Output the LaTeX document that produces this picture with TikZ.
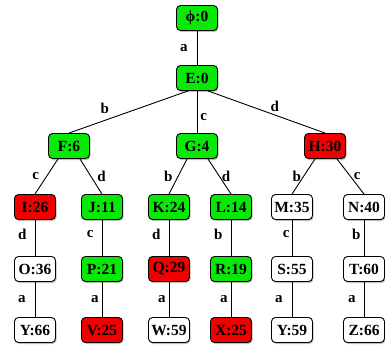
\documentclass[tikz,border=0pt]{standalone}
\usepackage{fontspec}
\setmainfont{Liberation Serif}
\usepackage{tikz}
\usetikzlibrary{positioning,shadows}
\definecolor{gnode}{RGB}{10,232,10}
\definecolor{rnode}{RGB}{240,0,0}
\tikzset{
	st/.style={draw, rounded corners=4pt, minimum width=41pt, minimum height=25pt, inner sep=2pt,
		font=\fontsize{15.5}{17}\selectfont\bfseries, drop shadow={shadow xshift=1pt, shadow yshift=-1.5pt, fill=black, opacity=.25}},
	gst/.style={st, fill=gnode},
	rst/.style={st, fill=rnode},
	wst/.style={st, fill=white},
	lbl/.style={font=\fontsize{15}{17}\selectfont\bfseries, inner sep=1pt}
}

\begin{document}
\begin{tikzpicture}[x=1pt,y=-1pt,line width=.9pt]
	\path [use as bounding box] (0,0) rectangle (385,345);
	% nodes, row by row
	\node[gst] (phi) at (197,18) {ϕ:0};
	\node[gst] (E) at (197,78) {E:0};
	\node[gst] (F) at (69,146) {F:6};
	\node[gst] (G) at (197,146) {G:4};
	\node[rst] (H) at (325,146) {H:30};
	\node[rst] (I) at (35,207) {I:26};
	\node[gst] (J) at (102,207) {J:11};
	\node[gst] (K) at (169,207) {K:24};
	\node[gst] (L) at (231,207) {L:14};
	\node[wst] (M) at (292,207) {M:35};
	\node[wst] (N) at (364,207) {N:40};
	\node[wst] (O) at (35,269) {O:36};
	\node[gst] (P) at (102,269) {P:21};
	\node[rst] (Q) at (169,269) {Q:29};
	\node[gst] (R) at (231,269) {R:19};
	\node[wst] (S) at (292,269) {S:55};
	\node[wst] (T) at (364,269) {T:60};
	\node[wst] (Y1) at (35,330) {Y:66};
	\node[rst] (V) at (102,330) {V:25};
	\node[wst] (W) at (169,330) {W:59};
	\node[rst] (X) at (231,330) {X:25};
	\node[wst] (Y2) at (292,330) {Y:59};
	\node[wst] (Z) at (364,330) {Z:66};
	% edges
	\draw (phi) -- node[lbl, left=8pt] {a} (E);
	\draw ([xshift=-9pt]E.south) -- node[lbl, pos=.7, above=5pt] {b} (F.north);
	\draw (E) -- node[lbl, pos=.62, right=2pt] {c} (G);
	\draw ([xshift=11pt]E.south) -- node[lbl, pos=.57, above=2pt] {d} (H.north);
	\draw ([xshift=-11pt]F.south) -- node[lbl, left=6pt] {c} (I.north);
	\draw ([xshift=11pt]F.south) -- node[lbl, right=5pt] {d} (J.north);
	\draw ([xshift=-10pt]G.south) -- node[lbl, left=4pt] {b} (K.north);
	\draw ([xshift=11pt]G.south) -- node[lbl, right=1pt] {d} (L.north);
	\draw ([xshift=-10pt]H.south) -- node[lbl, left=1pt] {b} (M.north);
	\draw ([xshift=12pt]H.south) -- node[lbl, right=2pt] {c} (N.north);
	\draw (I) -- node[lbl, left=7pt, pos=.4] {d} (O);
	\draw (J) -- node[lbl, left=7pt, pos=.4] {c} (P);
	\draw (K) -- node[lbl, left=7pt, pos=.4] {d} (Q);
	\draw (L) -- node[lbl, left=7pt, pos=.4] {b} (R);
	\draw (M) -- node[lbl, left=1pt, pos=.4] {c} (S);
	\draw (N) -- node[lbl, left=2pt, pos=.4] {b} (T);
	\draw (O) -- node[lbl, left=8pt] {a} (Y1);
	\draw (P) -- node[lbl, left=2pt] {a} (V);
	\draw (Q) -- node[lbl, left=2pt] {a} (W);
	\draw (R) -- node[lbl, left=2pt] {a} (X);
	\draw (S) -- node[lbl, left=8pt] {a} (Y2);
	\draw (T) -- node[lbl, left=7pt] {a} (Z);
\end{tikzpicture}
\end{document}
